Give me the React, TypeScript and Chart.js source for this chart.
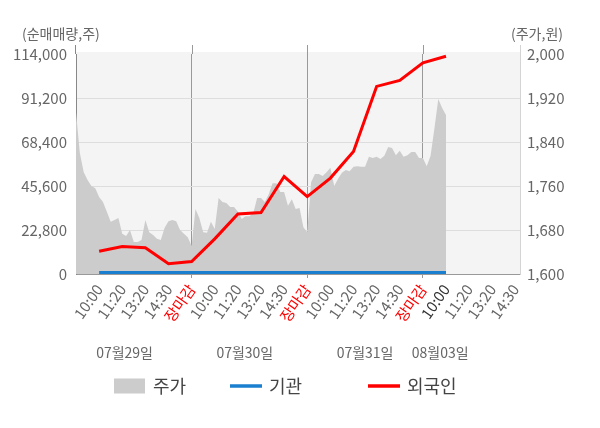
import { useEffect, useRef } from "react"
import { Chart, registerables } from "chart.js"

Chart.register(...registerables)

const FONT = "'Noto Sans CJK KR', 'Noto Sans', sans-serif"

// x축: 라벨 한 칸 = 1, 하루 = 5칸 (마지막 날은 14:30까지)
const timeLabels = [
  "", "10:00", "11:20", "13:20", "14:30", "장마감",
  "10:00", "11:20", "13:20", "14:30", "장마감",
  "10:00", "11:20", "13:20", "14:30", "장마감",
  "10:00", "11:20", "13:20", "14:30",
]
const dayBreaks = [5, 10, 15]
const dayLabels = ["07월29일", "07월30일", "07월31일", "08월03일"]
const dayLabelAt = [2.1, 7.3, 12.5, 15.75]

const volumeTicks = [0, 22800, 45600, 68400, 91200, 114000]
const priceTicks = [1600, 1680, 1760, 1840, 1920, 2000]

// 주가 (원) - 한 칸에 6개씩
const pointsPerStep = 6
const price = [
  1894, 1820, 1785, 1771, 1760, 1756,
  1740, 1731, 1713, 1695, 1698, 1702,
  1673, 1669, 1680, 1658, 1658, 1662,
  1698, 1676, 1671, 1664, 1662, 1684,
  1696, 1698, 1696, 1680, 1673, 1667,
  1651, 1718, 1702, 1676, 1675, 1695,
  1682, 1738, 1731, 1729, 1722, 1722,
  1713, 1700, 1705, 1705, 1711, 1738,
  1738, 1731, 1745, 1765, 1765, 1749,
  1749, 1724, 1736, 1718, 1720, 1685,
  1676, 1767, 1782, 1782, 1778, 1785,
  1793, 1760, 1773, 1784, 1789, 1787,
  1795, 1796, 1795, 1795, 1813, 1811,
  1813, 1809, 1815, 1831, 1829, 1816,
  1824, 1813, 1816, 1822, 1822, 1811,
  1811, 1796, 1815, 1865, 1918, 1902,
  1889,
]

// 순매매량 (주) - 10:00 부터 라벨마다 하나
const foreign = [
  11800, 14200, 13600, 5300, 6500,
  18200, 31100, 31900, 50500, 40100,
  49700, 63500, 97200, 100300, 109400,
  112800,
]
const institution = [
  600, 600, 600, 600, 600,
  600, 600, 600, 600, 600,
  600, 600, 600, 600, 600,
  600,
]

const legendX = [114, 230, 368]

const decorPlugin = {
  id: "decor",
  beforeDraw(chart: any) {
    const { ctx, chartArea: a } = chart
    ctx.save()
    ctx.fillStyle = "#f4f4f4"
    ctx.fillRect(a.left, a.top - 2, a.right - a.left, a.bottom - a.top + 2)
    ctx.restore()
  },
  afterDraw(chart: any) {
    const { ctx, chartArea: a, scales } = chart
    const line = (x1: number, y1: number, x2: number, y2: number) => {
      ctx.beginPath()
      ctx.moveTo(x1, y1)
      ctx.lineTo(x2, y2)
      ctx.stroke()
    }
    ctx.save()
    ctx.lineWidth = 1
    ctx.strokeStyle = "#999"
    dayBreaks.forEach((v) => {
      const x = Math.round(scales.x.getPixelForValue(v)) + 0.5
      line(x, a.top - 9, x, a.top)
    })
    ctx.strokeStyle = "#888"
    line(Math.round(a.left) - 0.5, a.top - 9, Math.round(a.left) - 0.5, a.top)
    ctx.strokeStyle = "#d4d4d4"
    line(Math.round(a.right) + 0.5, a.top - 9, Math.round(a.right) + 0.5, a.top)

    ctx.font = `14px ${FONT}`
    ctx.fillStyle = "#666"
    ctx.textBaseline = "middle"
    ctx.textAlign = "left"
    ctx.fillText("(순매매량,주)", 22, 34)
    ctx.textAlign = "right"
    ctx.fillText("(주가,원)", 563, 34)

    ctx.textAlign = "center"
    dayLabels.forEach((t, i) => {
      ctx.fillText(t, scales.x.getPixelForValue(dayLabelAt[i]), 353)
    })

    // 범례
    chart.data.datasets.forEach((ds: any, i: number) => {
      const x = legendX[i]
      const y = 386
      if (ds.fill) {
        ctx.fillStyle = ds.backgroundColor
        ctx.fillRect(x, y - 7.5, 31, 15)
      } else {
        ctx.strokeStyle = ds.borderColor
        ctx.lineWidth = 3.5
        line(x, y, x + 32, y)
      }
      ctx.fillStyle = "#444"
      ctx.font = `18px ${FONT}`
      ctx.textAlign = "left"
      ctx.fillText(ds.label, x + 39, y)
    })
    ctx.restore()
  },
}

export default function App() {
  const chartRef = useRef<HTMLCanvasElement | null>(null)
  const chartInstance = useRef<Chart | null>(null)

  useEffect(() => {
    document.body.style.margin = "0"
    if (!chartRef.current) return
    if (chartInstance.current) chartInstance.current.destroy()

    const ctx = chartRef.current.getContext("2d")
    if (!ctx) return

    Chart.defaults.font.family = FONT

    chartInstance.current = new Chart(ctx, {
      type: "line",
      data: {
        datasets: [
          {
            label: "주가",
            data: price.map((v, j) => ({ x: j / pointsPerStep, y: v })),
            yAxisID: "y1",
            backgroundColor: "#cccccc",
            borderColor: "#cccccc",
            borderWidth: 0,
            pointRadius: 0,
            fill: "start",
            tension: 0,
            order: 3,
          },
          {
            label: "기관",
            data: institution.map((v, i) => ({ x: i + 1, y: v })),
            yAxisID: "y",
            borderColor: "#1a7fcf",
            backgroundColor: "#1a7fcf",
            borderWidth: 3.5,
            pointRadius: 0,
            fill: false,
            order: 2,
          },
          {
            label: "외국인",
            data: foreign.map((v, i) => ({ x: i + 1, y: v })),
            yAxisID: "y",
            borderColor: "#ff0000",
            backgroundColor: "#ff0000",
            borderWidth: 3,
            pointRadius: 0,
            fill: false,
            order: 1,
          },
        ],
      },
      options: {
        animation: false,
        responsive: true,
        maintainAspectRatio: false,
        layout: { padding: { top: 54, bottom: 94, left: 0, right: 0 } },
        plugins: {
          legend: { display: false },
          tooltip: { enabled: false },
        },
        scales: {
          x: {
            type: "linear",
            min: 0,
            max: 19.2,
            afterBuildTicks: (s: any) => {
              s.ticks = timeLabels.map((_, i) => ({ value: i }))
            },
            afterFit: (s: any) => {
              s.height = 60
            },
            grid: {
              tickLength: 4,
              color: (c: any) =>
                dayBreaks.includes(c.tick?.value) ? "#999" : "rgba(0,0,0,0)",
            },
            border: { color: "#999" },
            ticks: {
              autoSkip: false,
              minRotation: 55,
              maxRotation: 55,
              padding: 3,
              font: { size: 15 },
              color: (c: any) => {
                const v = c.tick?.value
                if (timeLabels[v] === "장마감") return "#ff0000"
                if (v === 16) return "#333"
                return "#666"
              },
              callback: (v: any) => timeLabels[Math.round(Number(v))] ?? "",
            },
          },
          y: {
            position: "left",
            min: 0,
            max: 114000,
            afterBuildTicks: (s: any) => {
              s.ticks = volumeTicks.map((v) => ({ value: v }))
            },
            afterFit: (s: any) => {
              s.width = 76
            },
            grid: {
              drawTicks: false,
              color: (c: any) =>
                c.tick?.value === 114000 || c.tick?.value === 0
                  ? "rgba(0,0,0,0)"
                  : "#dddddd",
            },
            border: { color: "#888" },
            ticks: {
              padding: 9,
              font: { size: 15 },
              color: "#666",
              callback: (v: any) => Number(v).toLocaleString("en-US"),
            },
          },
          y1: {
            position: "right",
            min: 1600,
            max: 2000,
            afterBuildTicks: (s: any) => {
              s.ticks = priceTicks.map((v) => ({ value: v }))
            },
            afterFit: (s: any) => {
              s.width = 80
            },
            grid: { drawOnChartArea: false, drawTicks: false },
            border: { color: "#d4d4d4" },
            ticks: {
              padding: 7,
              font: { size: 15 },
              color: "#666",
              callback: (v: any) => Number(v).toLocaleString("en-US"),
            },
          },
        },
      },
      plugins: [decorPlugin],
    })

    return () => {
      if (chartInstance.current) {
        chartInstance.current.destroy()
        chartInstance.current = null
      }
    }
  }, [])

  return (
    <div style={{ position: "relative", width: 600, height: 428 }}>
      <canvas ref={chartRef} />
    </div>
  )
}
